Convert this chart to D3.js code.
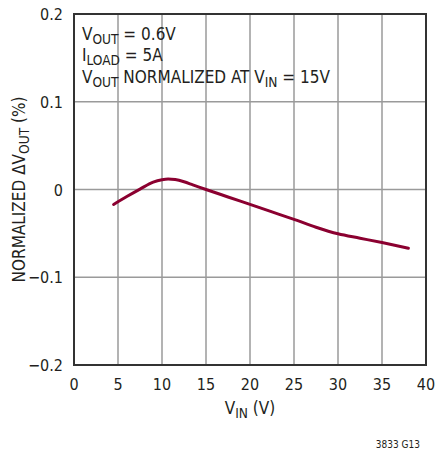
<!DOCTYPE html>
<html>
<head>
<meta charset="utf-8">
<title>Normalized dVout vs Vin</title>
<script src="https://d3js.org/d3.v7.min.js"></script>
<style>
  body { margin: 0; background: #fff; }
  text { font-family: "Liberation Sans Narrow", "DejaVu Sans Condensed", "Roboto", sans-serif; fill: #231f20; }
</style>
</head>
<body>
<script>
// curve
const vin  = [4.5, 6, 7.5, 9, 10, 10.7, 11.5, 12.5, 13.5, 15, 17.5, 20, 22.5, 25, 27.5, 30, 32.5, 35, 38];
const dvout = [-0.017, -0.008, 0.0005, 0.0085, 0.0112, 0.012, 0.0113, 0.0088, 0.0053, 0.0, -0.0085, -0.017, -0.0255, -0.034, -0.043, -0.0505, -0.0555, -0.0605, -0.067];

const xTicks = [0, 5, 10, 15, 20, 25, 30, 35, 40];
const yTicks = [-0.2, -0.1, 0, 0.1, 0.2];
const yTickLabels = ["\u22120.2", "\u22120.1", "0", "0.1", "0.2"];

const W = 435, H = 450;
const plotL = 74, plotR = 426, plotT = 14, plotB = 365;

const svg = d3.select("body").append("svg")
    .attr("width", W)
    .attr("height", H);

const x = d3.scaleLinear().domain([0, 40]).range([plotL, plotR]);
const y = d3.scaleLinear().domain([-0.2, 0.2]).range([plotB, plotT]);

// grid
svg.append("g").selectAll("line")
  .data(xTicks.slice(1, -1))
  .enter().append("line")
    .attr("x1", d => x(d)).attr("x2", d => x(d))
    .attr("y1", plotT).attr("y2", plotB)
    .attr("stroke", "#9a9a9a").attr("stroke-width", 1.5);

svg.append("g").selectAll("line")
  .data(yTicks.slice(1, -1))
  .enter().append("line")
    .attr("x1", plotL).attr("x2", plotR)
    .attr("y1", d => y(d)).attr("y2", d => y(d))
    .attr("stroke", "#9a9a9a").attr("stroke-width", 1.5);

// frame
svg.append("rect")
  .attr("x", plotL).attr("y", plotT)
  .attr("width", plotR - plotL).attr("height", plotB - plotT)
  .attr("fill", "none").attr("stroke", "#333").attr("stroke-width", 2);

// curve
const line = d3.line()
  .x((d, i) => x(vin[i]))
  .y(d => y(d))
  .curve(d3.curveMonotoneX);

svg.append("path")
  .datum(dvout)
  .attr("d", line)
  .attr("fill", "none")
  .attr("stroke", "#8b0030")
  .attr("stroke-width", 3)
  .attr("stroke-linecap", "round");

// tick labels
svg.append("g").selectAll("text")
  .data(xTicks)
  .enter().append("text")
    .attr("x", d => x(d))
    .attr("y", 390)
    .attr("text-anchor", "middle")
    .attr("font-size", 16)
    .text(d => d);

svg.append("g").selectAll("text")
  .data(yTicks)
  .enter().append("text")
    .attr("x", 63)
    .attr("y", d => y(d) + 6)
    .attr("text-anchor", "end")
    .attr("font-size", 16)
    .text((d, i) => yTickLabels[i]);

// helper for text with subscripts: parts = [[str, isSub], ...]
function subText(g, parts, size) {
  parts.forEach(p => {
    g.append("tspan")
      .attr("font-size", p[1] ? size * 0.8 : size)
      .attr("baseline-shift", p[1] ? "-25%" : null)
      .text(p[0]);
  });
  return g;
}

// axis titles
subText(svg.append("text")
    .attr("x", x(20)).attr("y", 414)
    .attr("text-anchor", "middle"),
  [["V", false], ["IN", true], [" (V)", false]], 17);

subText(svg.append("text")
    .attr("transform", "translate(25," + y(0) + ") rotate(-90)")
    .attr("text-anchor", "middle"),
  [["NORMALIZED \u0394V", false], ["OUT", true], [" (%)", false]], 17);

// annotations
subText(svg.append("text").attr("x", 82).attr("y", 39.5),
  [["V", false], ["OUT", true], [" = 0.6V", false]], 17);
subText(svg.append("text").attr("x", 82).attr("y", 61),
  [["I", false], ["LOAD", true], [" = 5A", false]], 17);
subText(svg.append("text").attr("x", 82).attr("y", 82.5),
  [["V", false], ["OUT", true], [" NORMALIZED AT V", false], ["IN", true], [" = 15V", false]], 17);

svg.append("text")
  .attr("x", 420).attr("y", 448)
  .attr("text-anchor", "end")
  .attr("font-size", 10)
  .text("3833 G13");
</script>
</body>
</html>
